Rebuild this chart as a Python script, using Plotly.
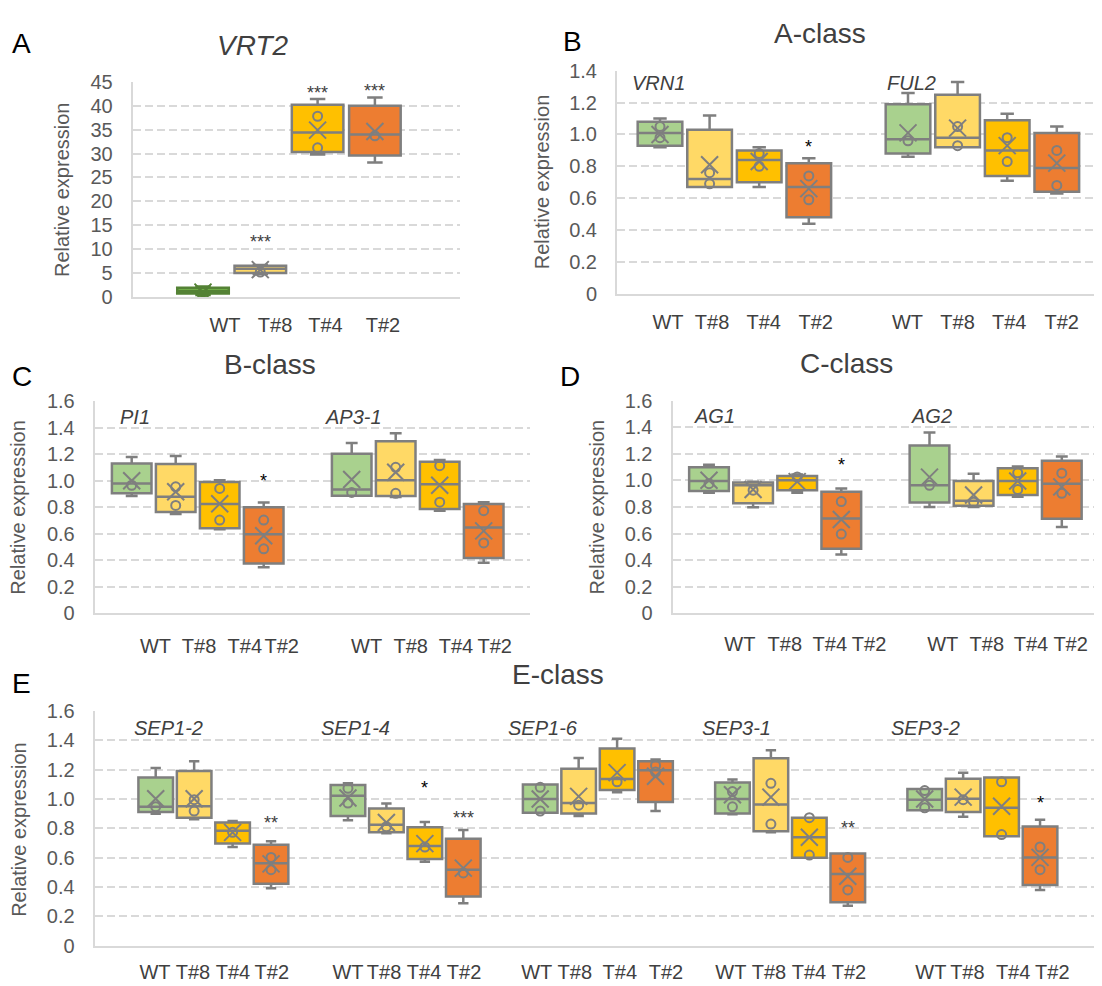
import plotly.graph_objects as go

# reference canvas and page offset (browser body margin of 8px)
W, H = 1102, 986
OX, OY = 8, 8
WF, HF = W - OX, H - OY
FONT = "Liberation Sans, Arial, sans-serif"

LINES = ["WT", "T#8", "T#4", "T#2"]
FILLS = ["#A9D18E", "#FFD966", "#FFC000", "#ED7D31"]

# ---------------- data ----------------
# Panel A : VRT2
A_genes = ["VRT2"]
A_q1 = [[0.7, 5.0, 30.3, 29.6]]
A_med = [[1.2, 5.9, 34.4, 34.0]]
A_q3 = [[1.9, 6.5, 40.2, 40.0]]
A_lo = [[0.4, 4.8, 29.8, 28.1]]
A_hi = [[2.2, 6.7, 41.4, 41.7]]
A_mean = [[1.0, 5.7, 34.9, 34.6]]
A_pts = [[[1.0], [5.2], [37.8, 31.2], [33.7]]]
A_sig = [["", "***", "***", "***"]]
A_sig_y = [[None, 12.4, 43.6, 43.9]]

# Panel B : A-class
B_genes = ["VRN1", "FUL2"]
B_q1 = [[0.93, 0.67, 0.70, 0.48], [0.88, 0.92, 0.74, 0.64]]
B_med = [[1.01, 0.72, 0.84, 0.67], [0.97, 0.98, 0.90, 0.79]]
B_q3 = [[1.08, 1.03, 0.90, 0.82], [1.19, 1.25, 1.09, 1.01]]
B_lo = [[0.92, 0.67, 0.67, 0.44], [0.86, 0.92, 0.71, 0.63]]
B_hi = [[1.10, 1.12, 0.92, 0.85], [1.26, 1.33, 1.13, 1.05]]
B_mean = [[1.00, 0.81, 0.83, 0.66], [1.01, 1.04, 0.93, 0.82]]
B_pts = [[[1.05, 0.98], [0.76, 0.69], [0.88, 0.80], [0.74, 0.59]],
         [[0.96], [1.05, 0.93], [0.98, 0.83], [0.90, 0.68]]]
B_sig = [["", "", "", "*"], ["", "", "", ""]]
B_sig_y = [[None, None, None, 0.945], [None, None, None, None]]

# Panel C : B-class
C_genes = ["PI1", "AP3-1"]
C_q1 = [[0.905, 0.765, 0.642, 0.376], [0.887, 0.885, 0.787, 0.418]]
C_med = [[0.98, 0.88, 0.824, 0.597], [0.934, 1.003, 0.973, 0.647]]
C_q3 = [[1.13, 1.126, 0.99, 0.80], [1.204, 1.298, 1.143, 0.824]]
C_lo = [[0.885, 0.75, 0.634, 0.347], [0.887, 0.877, 0.774, 0.381]]
C_hi = [[1.18, 1.187, 1.003, 0.836], [1.285, 1.359, 1.156, 0.838]]
C_mean = [[1.0, 0.917, 0.826, 0.585], [1.01, 1.064, 0.966, 0.622]]
C_pts = [[[0.966], [0.954, 0.814], [0.942, 0.703], [0.703, 0.487]],
         [[0.912], [1.101, 0.905], [1.114, 0.838], [0.774, 0.531]]]
C_sig = [["", "", "", "*"], ["", "", "", ""]]
C_sig_y = [[None, None, None, 1.027], [None, None, None, None]]

# Panel D : C-class
D_genes = ["AG1", "AG2"]
D_q1 = [[0.919, 0.828, 0.926, 0.485], [0.833, 0.809, 0.89, 0.711]]
D_med = [[0.995, 0.963, 1.0, 0.713], [0.963, 0.846, 0.995, 0.975]]
D_q3 = [[1.098, 0.983, 1.032, 0.914], [1.262, 0.995, 1.091, 1.147]]
D_lo = [[0.907, 0.797, 0.907, 0.443], [0.799, 0.80, 0.877, 0.649]]
D_hi = [[1.118, 0.99, 1.044, 0.939], [1.36, 1.049, 1.103, 1.179]]
D_mean = [[1.0, 0.931, 0.99, 0.706], [1.024, 0.89, 0.995, 0.951]]
D_pts = [[[0.975], [0.926], [1.025], [0.84, 0.596]],
         [[0.963], [0.836], [1.056, 0.931], [1.054, 0.902]]]
D_sig = [["", "", "", "*"], ["", "", "", ""]]
D_sig_y = [[None, None, None, 1.147], [None, None, None, None]]

# Panel E : E-class
E_genes = ["SEP1-2", "SEP1-4", "SEP1-6", "SEP3-1", "SEP3-2"]
E_q1 = [[0.911, 0.873, 0.696, 0.422], [0.884, 0.773, 0.591, 0.336],
        [0.907, 0.902, 1.062, 0.98], [0.902, 0.78, 0.6, 0.296],
        [0.924, 0.911, 0.747, 0.413]]
E_med = [[0.947, 0.951, 0.784, 0.562], [1.022, 0.824, 0.68, 0.518],
         [1.0, 0.973, 1.136, 1.196], [1.0, 0.962, 0.74, 0.489],
         [0.996, 1.002, 0.94, 0.602]]
E_q3 = [[1.147, 1.191, 0.84, 0.689], [1.096, 0.936, 0.807, 0.729],
        [1.1, 1.207, 1.344, 1.258], [1.113, 1.278, 0.873, 0.629],
        [1.069, 1.138, 1.147, 0.813]]
E_lo = [[0.9, 0.862, 0.673, 0.391], [0.856, 0.767, 0.573, 0.289],
        [0.907, 0.884, 1.047, 0.918], [0.896, 0.773, 0.6, 0.273],
        [0.924, 0.88, 0.747, 0.38]]
E_hi = [[1.211, 1.258, 0.851, 0.713], [1.107, 0.969, 0.844, 0.789],
        [1.1, 1.28, 1.411, 1.269], [1.133, 1.333, 0.873, 0.629],
        [1.069, 1.18, 1.147, 0.858]]
E_mean = [[1.002, 1.002, 0.773, 0.558], [1.007, 0.84, 0.696, 0.529],
          [1.0, 1.018, 1.18, 1.156], [1.029, 1.013, 0.74, 0.473],
          [1.0, 1.013, 0.951, 0.602]]
E_pts = [[[0.947], [0.996, 0.918], [0.773], [0.602, 0.518]],
         [[1.073, 0.973], [0.811], [0.673], [0.496]],
         [[1.08, 0.918], [0.958], [1.118], [1.229, 1.184]],
         [[1.051, 0.947], [1.107, 0.829], [0.873, 0.618], [0.602, 0.38]],
         [[1.058, 0.94], [0.996], [1.118, 0.758], [0.673, 0.518]]]
E_sig = [["", "", "", "**"], ["", "", "*", "***"], ["", "", "", ""],
         ["", "", "", "**"], ["", "", "", "*"]]
E_sig_y = [[None, None, None, 0.862], [None, None, 1.102, 0.90],
           [None, None, None, None], [None, None, None, 0.829],
           [None, None, None, 1.0]]

# ---------------- layout (pixel geometry of the reference) ----------------
PANELS = [
    dict(letter="A", title="<i>VRT2</i>", title_xy=(252, 35), letter_xy=(21, 33),
         ytitle_xy=(62, 183), rect=(132.7, 460, 72.3, 292.3), ymax=45, ystep=5,
         x0=203, slot=57.3, labpos=[0.384, 1.257, 2.138, 3.14], gene_xy=[],
         xstand=9,
         data=(A_genes, A_q1, A_med, A_q3, A_lo, A_hi, A_mean, A_pts, A_sig, A_sig_y)),
    dict(letter="B", title="A-class", title_xy=(820, 22.5), letter_xy=(572.5, 31),
         ytitle_xy=(542, 175), rect=(617, 1102, 61, 289), ymax=1.4, ystep=0.2,
         x0=660, slot=49.6,
         labpos=[0.16, 1.05, 2.09, 3.14, 4.99, 6.0, 7.04, 8.1],
         gene_xy=[(658, 73.5), (911, 73.5)], xstand=9,
         data=(B_genes, B_q1, B_med, B_q3, B_lo, B_hi, B_mean, B_pts, B_sig, B_sig_y)),
    dict(letter="C", title="B-class", title_xy=(270, 361), letter_xy=(22, 374),
         ytitle_xy=(18.4, 507.5), rect=(94.7, 530, 399, 616), ymax=1.6, ystep=0.2,
         x0=131.7, slot=44.0,
         labpos=[0.54, 1.53, 2.57, 3.41, 5.34, 6.34, 7.37, 8.25],
         gene_xy=[(135, 415), (353, 415)], xstand=14,
         data=(C_genes, C_q1, C_med, C_q3, C_lo, C_hi, C_mean, C_pts, C_sig, C_sig_y)),
    dict(letter="D", title="C-class", title_xy=(846, 360), letter_xy=(570, 374),
         ytitle_xy=(596.6, 507), rect=(672.5, 1102, 398.3, 616), ymax=1.6, ystep=0.2,
         x0=709, slot=44.1,
         labpos=[0.70, 1.72, 2.74, 3.63, 5.3, 6.3, 7.3, 8.2],
         gene_xy=[(714.5, 414), (931, 414)], xstand=12,
         data=(D_genes, D_q1, D_med, D_q3, D_lo, D_hi, D_mean, D_pts, D_sig, D_sig_y)),
    dict(letter="E", title="E-class", title_xy=(557.5, 679), letter_xy=(21.5, 688),
         ytitle_xy=(18.8, 836.7), rect=(94.6, 1102, 716, 956), ymax=1.6, ystep=0.2,
         x0=155.7, slot=38.45,
         labpos=[-0.02, 0.97, 2.01, 3.02, 5.0, 5.94, 6.98, 8.02,
                 9.91, 10.9, 12.07, 13.27, 14.96, 15.95, 16.99, 18.03,
                 20.16, 21.11, 22.3, 23.32],
         gene_xy=[(168, 733), (355, 733), (543, 733), (736, 733), (925, 733)],
         xstand=7,
         data=(E_genes, E_q1, E_med, E_q3, E_lo, E_hi, E_mean, E_pts, E_sig, E_sig_y)),
]

BOX_LINE = "#7F7F7F"
GRID = "#D9D9D9"
TEXT = "#404040"
TICK = "#595959"


def fx(x):
    return (x - OX) / WF


def fy(y):
    return 1 - (y - OY) / HF


def ann(x, y, text, size, color=TEXT, angle=0, xanchor="center"):
    return dict(x=fx(x), y=fy(y), xref="paper", yref="paper", text=text,
                showarrow=False, textangle=angle, xanchor=xanchor, yanchor="middle",
                font=dict(family=FONT, size=size, color=color))


fig = go.Figure()
annotations = []
layout_axes = {}

for k, p in enumerate(PANELS):
    idx = "" if k == 0 else str(k + 1)
    xa, ya = "x" + idx, "y" + idx
    genes, q1, med, q3, lo, hi, mean, pts, sig, sig_y = p["data"]
    xl, xr, yt, yb = p["rect"]
    ng = len(genes)

    for i, name in enumerate(LINES):
        pos = [g * 5 + i for g in range(ng)]
        fill = FILLS[i]
        lcol = BOX_LINE
        if p["letter"] == "A" and i == 0:
            fill, lcol = "#70AD47", "#548235"
        fig.add_trace(go.Box(
            x=pos, q1=[q1[g][i] for g in range(ng)],
            median=[med[g][i] for g in range(ng)],
            q3=[q3[g][i] for g in range(ng)],
            lowerfence=[lo[g][i] for g in range(ng)],
            upperfence=[hi[g][i] for g in range(ng)],
            fillcolor=fill, line=dict(color=lcol, width=2.5), width=0.9,
            whiskerwidth=0.3, boxpoints=False, showlegend=False,
            hoverinfo="skip", xaxis=xa, yaxis=ya, name=name))
        fig.add_trace(go.Scatter(
            x=pos, y=[mean[g][i] for g in range(ng)], mode="markers",
            marker=dict(symbol="x-thin-open", size=17, color=lcol,
                        line=dict(width=2, color=lcol)),
            showlegend=False, hoverinfo="skip", xaxis=xa, yaxis=ya))
        px_, py_ = [], []
        for g in range(ng):
            for v in pts[g][i]:
                px_.append(g * 5 + i)
                py_.append(v)
        fig.add_trace(go.Scatter(
            x=px_, y=py_, mode="markers",
            marker=dict(symbol="circle-open", size=9, color=lcol,
                        line=dict(width=2, color=lcol)),
            showlegend=False, hoverinfo="skip", xaxis=xa, yaxis=ya))
        for g in range(ng):
            if sig[g][i]:
                annotations.append(dict(
                    x=g * 5 + i, y=sig_y[g][i], xref=xa, yref=ya, text=sig[g][i],
                    showarrow=False, yshift=-4, xanchor="center", yanchor="middle",
                    font=dict(family=FONT, size=18,
                              color="#000000" if sig[g][i] == "*" else TEXT)))

    xrange = [(xl - p["x0"]) / p["slot"], (xr - p["x0"]) / p["slot"]]
    nt = int(round(p["ymax"] / p["ystep"]))
    yvals = [round(j * p["ystep"], 2) for j in range(nt + 1)]
    if p["ystep"] >= 1:
        ytext = [str(int(v)) for v in yvals]
    else:
        ytext = ["0"] + ["%.1f" % v for v in yvals[1:]]

    layout_axes["xaxis" + idx] = dict(
        domain=[fx(xl), min(1.0, fx(xr))], range=xrange, anchor=ya, showgrid=False,
        zeroline=False, showline=True, linecolor=GRID, linewidth=2, ticks="",
        tickmode="array", tickvals=p["labpos"], ticktext=LINES * ng,
        tickfont=dict(family=FONT, size=20, color=TEXT),
        ticklabelstandoff=p["xstand"], fixedrange=True)
    layout_axes["yaxis" + idx] = dict(
        domain=[fy(yb), fy(yt)], range=[0, p["ymax"]], anchor=xa,
        showgrid=True, gridcolor=GRID, gridwidth=2, griddash="8px,4px",
        zeroline=False, showline=True, linecolor=GRID, linewidth=2, ticks="",
        tickmode="array", tickvals=yvals, ticktext=ytext,
        tickfont=dict(family=FONT, size=20, color=TICK),
        ticklabelstandoff=14, fixedrange=True)

    annotations.append(ann(*p["title_xy"], p["title"], 28))
    annotations.append(ann(*p["letter_xy"], p["letter"], 28, color="#000000"))
    annotations.append(ann(*p["ytitle_xy"], "Relative expression", 20, color=TICK, angle=-90))
    for (gx, gy), gname in zip(p["gene_xy"], genes):
        annotations.append(ann(gx, gy, "<i>%s</i>" % gname, 20))

fig.update_layout(
    width=WF, height=HF, margin=dict(l=0, r=0, t=0, b=0), autosize=False,
    paper_bgcolor="white", plot_bgcolor="white", boxmode="overlay",
    showlegend=False, annotations=annotations,
    font=dict(family=FONT, color=TEXT), **layout_axes)

fig.write_html("out.html")
